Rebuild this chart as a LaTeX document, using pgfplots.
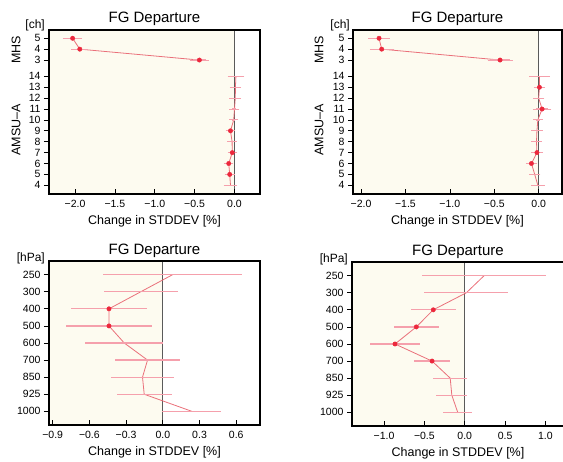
\documentclass[border=0pt]{standalone}
\usepackage{fontspec}
\setmainfont{Liberation Sans}
\usepackage{pgfplots}
\pgfplotsset{compat=1.18}

\definecolor{bgcream}{RGB}{253,251,240}
\definecolor{linecol}{RGB}{234,112,122}
\definecolor{errcol}{RGB}{245,160,172}
\definecolor{dotcol}{RGB}{236,40,60}
\definecolor{zerocol}{RGB}{90,90,90}

\tikzset{
  sidelab/.style={rotate=90, font=\fontsize{12.5}{14}\selectfont},
  unitlab/.style={anchor=base east, inner sep=0pt, font=\fontsize{12}{14}\selectfont},
}

\pgfplotsset{
  fgbase/.style={
    scale only axis, anchor=south west, clip=false, axis on top,
    axis line style={line width=1.3pt},
    ytick align=outside, xtick align=inside,
    xtick pos=bottom, ytick pos=left,
    major tick length=5pt,
    tick style={black, line width=0.7pt},
    tick label style={font=\fontsize{10.5}{12}\selectfont},
    xticklabel style={yshift=-3pt},
    title={FG Departure},
    title style={font=\fontsize{15}{17}\selectfont, anchor=base, yshift=1pt},
    xlabel={Change in STDDEV [\%]},
    xlabel style={font=\fontsize{12.5}{14}\selectfont, at={(0.5,0)}, anchor=base, yshift=-31pt},
  },
  chpanel/.style={fgbase, height=164pt,
    ymin=3.2, ymax=18.26,
    ytick={4,5,6,7,8,9,10,11,12,13,14,15.5,16.5,17.5},
    yticklabels={4,5,6,7,8,9,10,11,12,13,14,3,4,5},
  },
  hpapanel/.style={fgbase, height=164pt,
    y dir=reverse, ymin=-0.8, ymax=8.8,
    ytick={0,...,8},
    yticklabels={250,300,400,500,600,700,850,925,1000},
  },
  errline/.style={color=linecol, line width=0.8pt, mark=none,
    /pgfplots/error bars/x dir=both, /pgfplots/error bars/x explicit,
    /pgfplots/error bars/error bar style={draw=errcol, line width=1.2pt}},
  errlinecap/.style={errline, /pgfplots/error bars/error mark options={draw=errcol, mark size=3pt, line width=1pt}},
  errlinenocap/.style={errline, /pgfplots/error bars/error mark=none},
  sigdots/.style={only marks, mark=*, mark size=2.2pt, color=dotcol},
}

\newcommand{\creamzero}{%
  \fill[bgcream] (rel axis cs:0,0) rectangle ({axis cs:0,0}|-{rel axis cs:0,1});
  \draw[zerocol, line width=1pt] ({axis cs:0,0}|-{rel axis cs:0,0}) -- ({axis cs:0,0}|-{rel axis cs:0,1});
}

\begin{document}
\begin{tikzpicture}
\useasboundingbox (0,0) rectangle (563pt,462pt);
\clip (0,0) rectangle (563pt,462pt);

% top left
\begin{axis}[chpanel, at={(49pt,268pt)}, width=211pt,
  xmin=-2.326, xmax=0.32,
  xtick={-2,-1.5,-1,-0.5,0},
  xticklabels={−2.0,−1.5,−1.0,−0.5,0.0}]
\creamzero
\addplot[errlinecap] coordinates {
(-2.03,17.5) +- (0.083,0)
(-1.94,16.5) +- (0.07,0)
(-0.44,15.5) +- (0.08,0)
};
\addplot[errlinecap] coordinates {
(0.018,14) +- (0.067,0)
(0.012,13) +- (0.035,0)
(0.010,12) +- (0.035,0)
(0.000,11) +- (0.025,0)
(-0.010,10) +- (0.02,0)
(-0.050,9) +- (0.02,0)
(-0.030,8) +- (0.02,0)
(-0.028,7) +- (0.02,0)
(-0.072,6) +- (0.02,0)
(-0.060,5) +- (0.025,0)
(-0.050,4) +- (0.05,0)
};
\addplot[sigdots] coordinates {(-2.03,17.5) (-1.94,16.5) (-0.44,15.5)
  (-0.050,9) (-0.028,7) (-0.072,6) (-0.060,5)};
\node[sidelab] at ([xshift=-33pt]rel axis cs:0,0.878) {MHS};
\node[sidelab] at ([xshift=-33pt]rel axis cs:0,0.39) {AMSU–A};
\node[unitlab] at ([xshift=-4pt,yshift=1pt]rel axis cs:0,1) {[ch]};
\end{axis}

% top right
\begin{axis}[chpanel, at={(353pt,268pt)}, width=209pt,
  xmin=-2.09, xmax=0.262,
  xtick={-2,-1.5,-1,-0.5,0},
  xticklabels={−2.0,−1.5,−1.0,−0.5,0.0}]
\creamzero
\addplot[errlinecap] coordinates {
(-1.797,17.5) +- (0.086,0)
(-1.767,16.5) +- (0.10,0)
(-0.435,15.5) +- (0.107,0)
};
\addplot[errlinecap] coordinates {
(0.010,14) +- (0.084,0)
(0.008,13) +- (0.03,0)
(0.000,12) +- (0.03,0)
(0.038,11) +- (0.07,0)
(-0.010,10) +- (0.02,0)
(-0.020,9) +- (0.03,0)
(-0.025,8) +- (0.03,0)
(-0.020,7) +- (0.03,0)
(-0.082,6) +- (0.03,0)
(-0.045,5) +- (0.03,0)
(-0.010,4) +- (0.047,0)
};
\addplot[sigdots] coordinates {(-1.797,17.5) (-1.767,16.5) (-0.435,15.5)
  (0.008,13) (0.038,11) (-0.020,7) (-0.082,6)};
\node[sidelab] at ([xshift=-34pt]rel axis cs:0,0.878) {MHS};
\node[sidelab] at ([xshift=-34pt]rel axis cs:0,0.39) {AMSU–A};
\node[unitlab] at ([xshift=-3pt,yshift=1pt]rel axis cs:0,1) {[ch]};
\end{axis}

% bottom left
\begin{axis}[hpapanel, at={(49pt,37pt)}, width=211pt,
  xmin=-0.93, xmax=0.794,
  xtick={-0.9,-0.6,-0.3,0,0.3,0.6},
  xticklabels={−0.9,−0.6,−0.3,0.0,0.3,0.6}]
\creamzero
\addplot[errlinenocap] coordinates {
(0.08,0) +- (0.57,0)
(-0.18,1) +- (0.30,0)
(-0.44,2) +- (0.307,0)
(-0.44,3) +- (0.354,0)
(-0.315,4) +- (0.317,0)
(-0.125,5) +- (0.265,0)
(-0.166,6) +- (0.254,0)
(-0.152,7) +- (0.226,0)
(0.237,8) +- (0.241,0)
};
\addplot[sigdots] coordinates {(-0.44,2) (-0.44,3)};
\node[unitlab] at ([xshift=-4pt]rel axis cs:0,1) {[hPa]};
\end{axis}

% bottom right
\begin{axis}[hpapanel, at={(352pt,36pt)}, width=212pt,
  xmin=-1.397, xmax=1.23,
  xtick={-1,-0.5,0,0.5,1},
  xticklabels={−1.0,−0.5,0.0,0.5,1.0}]
\creamzero
\addplot[errlinenocap] coordinates {
(0.24,0) +- (0.77,0)
(0.02,1) +- (0.52,0)
(-0.39,2) +- (0.28,0)
(-0.60,3) +- (0.28,0)
(-0.864,4) +- (0.306,0)
(-0.405,5) +- (0.227,0)
(-0.18,6) +- (0.21,0)
(-0.16,7) +- (0.19,0)
(-0.087,8) +- (0.178,0)
};
\addplot[sigdots] coordinates {(-0.39,2) (-0.60,3) (-0.864,4) (-0.405,5)};
\node[unitlab] at ([xshift=-4pt]rel axis cs:0,1) {[hPa]};
\end{axis}
\end{tikzpicture}
\end{document}
